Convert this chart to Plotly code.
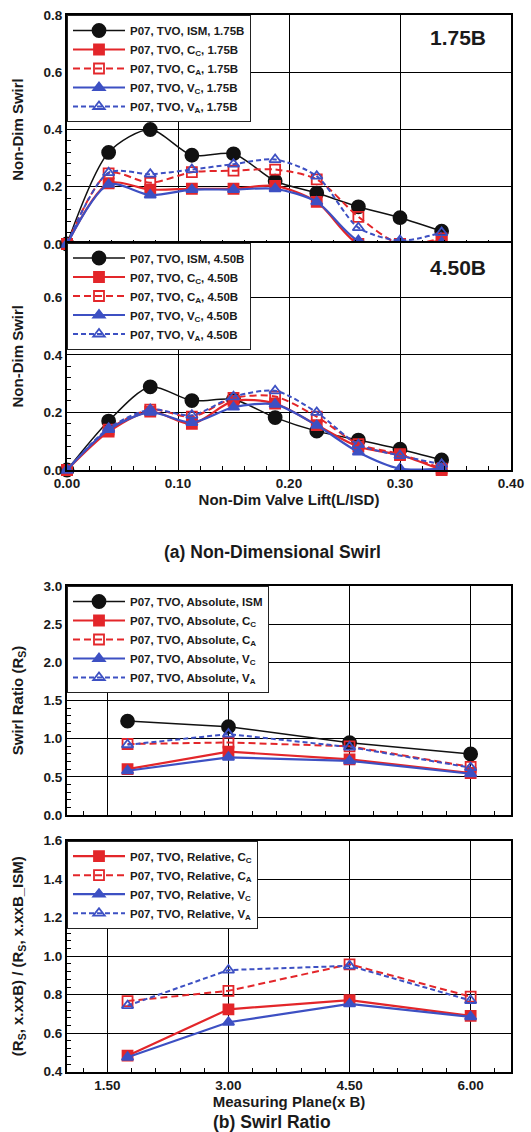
import plotly.graph_objects as go

# ---------------- data ----------------
lift = [0.0, 0.0375, 0.075, 0.1125, 0.15, 0.1875, 0.225, 0.2625, 0.30, 0.3375]

ism_175 = [0.0, 0.32, 0.40, 0.31, 0.315, 0.22, 0.178, 0.13, 0.092, 0.045]
cc_175 = [0.0, 0.212, 0.19, 0.193, 0.193, 0.203, 0.147, 0.0, 0.0, 0.01]
ca_175 = [0.0, 0.247, 0.214, 0.251, 0.256, 0.26, 0.226, 0.095, 0.0, 0.02]
vc_175 = [0.0, 0.208, 0.171, 0.19, 0.19, 0.193, 0.147, 0.012, 0.008, 0.005]
va_175 = [0.0, 0.249, 0.244, 0.26, 0.279, 0.295, 0.237, 0.057, 0.012, 0.04]

ism_450 = [0.0, 0.17, 0.289, 0.241, 0.245, 0.182, 0.135, 0.104, 0.072, 0.035]
cc_450 = [0.0, 0.133, 0.203, 0.16, 0.24, 0.231, 0.156, 0.081, 0.052, 0.0]
ca_450 = [0.0, 0.14, 0.21, 0.185, 0.25, 0.255, 0.185, 0.09, 0.055, 0.005]
vc_450 = [0.0, 0.14, 0.2, 0.165, 0.218, 0.228, 0.155, 0.062, 0.005, 0.005]
va_450 = [0.0, 0.145, 0.21, 0.19, 0.254, 0.275, 0.2, 0.088, 0.05, 0.02]

planes = [1.75, 3.0, 4.5, 6.0]
abs_ism = [1.23, 1.157, 0.948, 0.80]
abs_cc = [0.60, 0.83, 0.73, 0.55]
abs_ca = [0.93, 0.95, 0.90, 0.63]
abs_vc = [0.58, 0.756, 0.71, 0.54]
abs_va = [0.92, 1.06, 0.89, 0.62]

rel_cc = [0.483, 0.724, 0.772, 0.69]
rel_ca = [0.767, 0.82, 0.958, 0.79]
rel_vc = [0.475, 0.657, 0.752, 0.685]
rel_va = [0.743, 0.928, 0.95, 0.77]

lift_ticks = [0.0, 0.1, 0.2, 0.3, 0.4]
plane_ticks = [1.5, 3.0, 4.5, 6.0]

# ---------------- style ----------------
BLACK = "#111111"
RED = "#e3262a"
BLUE = "#3d50c3"
FONT = "Liberation Sans"
TXT = "#1a1a1a"

W, H = 531, 1132
L, R = 67, 20
PW = W - L - R


def dom(top_px, bot_px):
    return [(H - bot_px) / H, (H - top_px) / H]


fig = go.Figure()

series_specs = {
    "ism": dict(color=BLACK, dash="solid", symbol="circle", size=13, width=1.5),
    "cc": dict(color=RED, dash="solid", symbol="square", size=10, width=2.2),
    "ca": dict(color=RED, dash="7px,4px", symbol="square-open", size=10, width=2.0),
    "vc": dict(color=BLUE, dash="solid", symbol="triangle-up", size=10, width=2.2),
    "va": dict(color=BLUE, dash="5px,3px", symbol="triangle-up-open", size=10, width=2.0),
}


def add(x, y, key, name, xa, ya, legend, spline):
    s = series_specs[key]
    fig.add_trace(go.Scatter(
        x=x, y=y, name=name, mode="lines+markers",
        xaxis=xa, yaxis=ya, legend=legend,
        line=dict(color=s["color"], dash=s["dash"], width=s["width"],
                  shape="spline" if spline else "linear", smoothing=0.8),
        marker=dict(symbol=s["symbol"], size=s["size"], color=s["color"],
                    line=dict(color=s["color"], width=1.8)),
        cliponaxis=False,
    ))


# panel 1
add(lift, ism_175, "ism", "P07, TVO, ISM, 1.75B", "x", "y", "legend", True)
add(lift, cc_175, "cc", "P07, TVO, C<sub>C</sub>, 1.75B", "x", "y", "legend", True)
add(lift, ca_175, "ca", "P07, TVO, C<sub>A</sub>, 1.75B", "x", "y", "legend", True)
add(lift, vc_175, "vc", "P07, TVO, V<sub>C</sub>, 1.75B", "x", "y", "legend", True)
add(lift, va_175, "va", "P07, TVO, V<sub>A</sub>, 1.75B", "x", "y", "legend", True)
# panel 2
add(lift, ism_450, "ism", "P07, TVO, ISM, 4.50B", "x2", "y2", "legend2", True)
add(lift, cc_450, "cc", "P07, TVO, C<sub>C</sub>, 4.50B", "x2", "y2", "legend2", True)
add(lift, ca_450, "ca", "P07, TVO, C<sub>A</sub>, 4.50B", "x2", "y2", "legend2", True)
add(lift, vc_450, "vc", "P07, TVO, V<sub>C</sub>, 4.50B", "x2", "y2", "legend2", True)
add(lift, va_450, "va", "P07, TVO, V<sub>A</sub>, 4.50B", "x2", "y2", "legend2", True)
# panel 3
add(planes, abs_ism, "ism", "P07, TVO, Absolute, ISM", "x3", "y3", "legend3", False)
add(planes, abs_cc, "cc", "P07, TVO, Absolute, C<sub>C</sub>", "x3", "y3", "legend3", False)
add(planes, abs_ca, "ca", "P07, TVO, Absolute, C<sub>A</sub>", "x3", "y3", "legend3", False)
add(planes, abs_vc, "vc", "P07, TVO, Absolute, V<sub>C</sub>", "x3", "y3", "legend3", False)
add(planes, abs_va, "va", "P07, TVO, Absolute, V<sub>A</sub>", "x3", "y3", "legend3", False)
# panel 4
add(planes, rel_cc, "cc", "P07, TVO, Relative, C<sub>C</sub>", "x4", "y4", "legend4", False)
add(planes, rel_ca, "ca", "P07, TVO, Relative, C<sub>A</sub>", "x4", "y4", "legend4", False)
add(planes, rel_vc, "vc", "P07, TVO, Relative, V<sub>C</sub>", "x4", "y4", "legend4", False)
add(planes, rel_va, "va", "P07, TVO, Relative, V<sub>A</sub>", "x4", "y4", "legend4", False)

tickfont = dict(family=FONT, size=13.5, color=TXT, weight="bold")
titlefont = dict(family=FONT, size=15, color=TXT, weight="bold")


def xaxis(rng, tickvals, labels, minor_dt, anchor, title=None):
    d = dict(range=rng, tickvals=tickvals, tickformat=".2f", showticklabels=labels,
             ticks="inside", ticklen=6, tickcolor="black", tickwidth=1,
             showgrid=True, gridcolor="black", gridwidth=1,
             showline=True, linecolor="black", linewidth=2, mirror=True,
             zeroline=False, anchor=anchor, tickfont=tickfont, automargin=False,
             minor=dict(ticks="inside", ticklen=4, dtick=minor_dt, tickcolor="black",
                        tickwidth=1, showgrid=False),
             domain=[0, 1])
    if title:
        d["title"] = dict(text=title, font=titlefont, standoff=0)
    return d


def yaxis(rng, dtick, minor_dt, domain, anchor, title, fmt=".1f"):
    return dict(range=rng, dtick=dtick, tick0=0, tickformat=fmt,
                ticks="inside", ticklen=6, tickcolor="black", tickwidth=1,
                showgrid=True, gridcolor="black", gridwidth=1,
                showline=True, linecolor="black", linewidth=2, mirror=True,
                zeroline=False, anchor=anchor, tickfont=tickfont, automargin=False,
                minor=dict(ticks="inside", ticklen=4, dtick=minor_dt, tickcolor="black",
                           tickwidth=1, showgrid=False),
                domain=domain,
                title=dict(text=title, font=titlefont, standoff=16))


legend_common = dict(
    bgcolor="white", bordercolor="#222", borderwidth=1,
    font=dict(family=FONT, size=11.5, color=TXT, weight="bold"),
    xanchor="left", yanchor="top", x=0, itemwidth=52,
    tracegroupgap=0, itemclick=False,
)

d1 = dom(15, 244)
d2 = dom(242.5, 470)
d3 = dom(586, 815)
d4 = dom(840.7, 1071.7)

fig.update_layout(
    width=W, height=H,
    margin=dict(l=L, r=R, t=0, b=0, autoexpand=False),
    paper_bgcolor="white", plot_bgcolor="white",
    showlegend=True,
    xaxis=xaxis([0, 0.4], lift_ticks, False, 0.02, "y"),
    yaxis=yaxis([0, 0.8], 0.2, 0.04, d1, "x", "Non-Dim Swirl"),
    xaxis2=xaxis([0, 0.4], lift_ticks, True, 0.02, "y2", "Non-Dim Valve Lift(L/ISD)"),
    yaxis2=yaxis([0, 0.79], 0.2, 0.04, d2, "x2", "Non-Dim Swirl"),
    xaxis3=xaxis([1.0, 6.5], plane_ticks, False, 0.3, "y3"),
    yaxis3=yaxis([0, 3.0], 0.5, 0.1, d3, "x3", "Swirl Ratio (R<sub>S</sub>)"),
    xaxis4=xaxis([1.0, 6.5], plane_ticks, True, 0.3, "y4", "Measuring Plane(x B)"),
    yaxis4=yaxis([0.4, 1.6], 0.2, 0.04, d4, "x4",
                 "(R<sub>S</sub>, x.xxB) / (R<sub>S</sub>, x.xxB_ISM)"),
    legend=dict(legend_common, y=d1[1]),
    legend2=dict(legend_common, y=d2[1]),
    legend3=dict(legend_common, y=d3[1]),
    legend4=dict(legend_common, y=d4[1]),
)

ann_font_big = dict(family=FONT, size=21, color=TXT, weight="bold")
ann_font_cap = dict(family=FONT, size=17.5, color=TXT, weight="bold")


def ann(text, px, py, font):
    fig.add_annotation(text=text, xref="paper", yref="paper",
                       x=(px - L) / PW, y=(H - py) / H,
                       xanchor="center", yanchor="middle",
                       showarrow=False, font=font)


ann("1.75B", 458, 37, ann_font_big)
ann("4.50B", 458, 267, ann_font_big)
ann("(a) Non-Dimensional Swirl", 272, 552, ann_font_cap)
ann("(b) Swirl Ratio", 272, 1122, ann_font_cap)

fig.write_html("out.html",
               config={"displayModeBar": False},
               post_script="document.body.style.margin='0';document.body.style.overflow='hidden';")
